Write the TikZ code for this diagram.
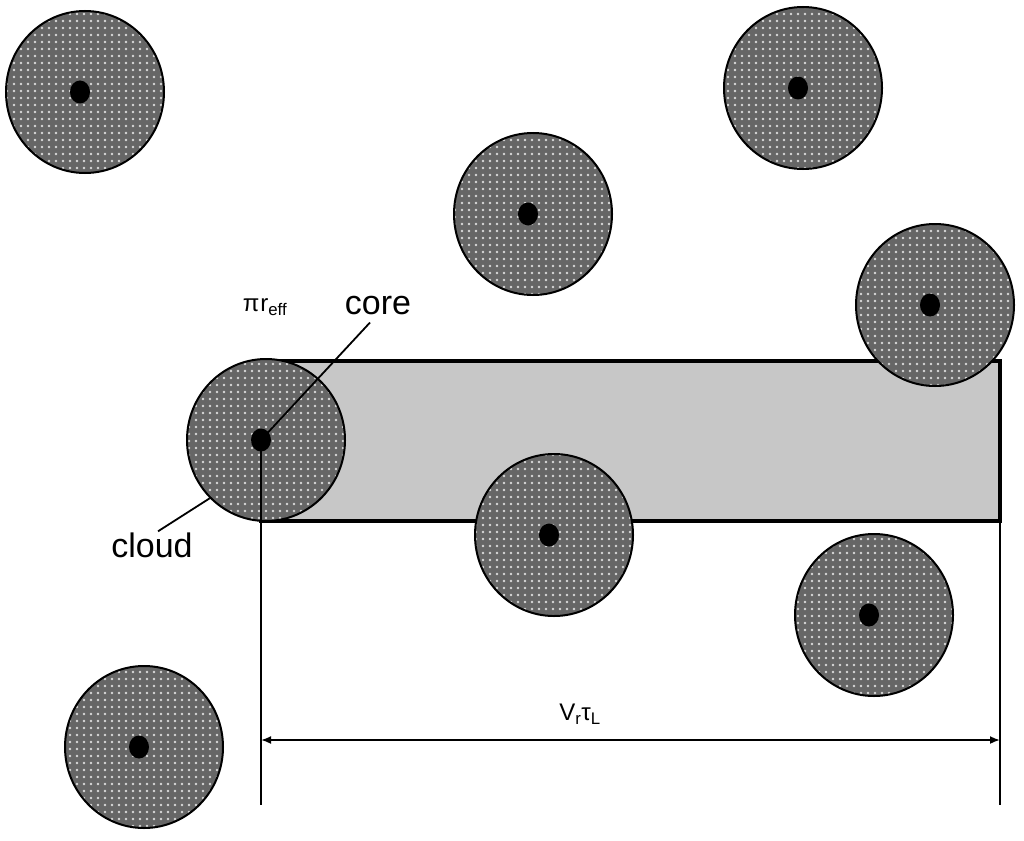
\documentclass[tikz,border=0pt]{standalone}
\usepackage{fontspec}
\setmainfont{Liberation Sans}
\usetikzlibrary{shapes.geometric,patterns.meta,arrows.meta,positioning}

\begin{document}
\begin{tikzpicture}[
    x=1pt, y=-1pt,
    cloud/.style={ellipse, draw, line width=2pt, minimum width=158pt, minimum height=162pt, inner sep=0pt,
        preaction={fill=black!60}, pattern={Dots[distance=7pt, radius=1.4pt]}, pattern color=white!85!black},
    core/.style={ellipse, fill=black, minimum width=20pt, minimum height=23pt, inner sep=0pt},
    tube/.style={draw, line width=3.5pt, fill=black!22},
    dim/.style={line width=1.8pt},
    lbl/.style={font=\fontsize{34}{36}\selectfont, inner sep=1pt},
    sym/.style={font=\fontsize{24}{26}\selectfont, inner sep=1pt},
    tip/.style={{Latex[length=10pt,width=8pt]}-{Latex[length=10pt,width=8pt]}}
]
    \useasboundingbox (0,0) rectangle (1024,840);

    % swept tube behind the clouds
    \coordinate (tl) at (261,361);
    \coordinate (br) at (1000,521);
    \draw[tube] (tl) rectangle (br);

    % clouds with their cores
    \foreach \n/\x/\y in {1/80/92, 2/798/88, 3/528/214, 4/930/305, 5/261/440, 6/549/535, 7/869/615, 8/139/747} {
        \node[cloud] (cloud\n) at (\x+5,\y) {};
        \node[core] (core\n) at (\x,\y) {};
    }

    % labels
    \node[sym] (rlbl) at (265,307) {π\kern1pt r\textsubscript{eff}};
    \node[lbl] (corelbl) at (378,306) {core};
    \node[lbl] (cloudlbl) at (152,545) {cloud};
    \draw[dim] (core5.center) -- ([xshift=-8pt,yshift=-6pt]corelbl.south);
    \draw[dim] ([xshift=6pt]cloudlbl.north) -- (cloud5.226);

    % dimension
    \coordinate (base) at (0,805);
    \coordinate (arr) at (0,740);
    \draw[dim] (core5.center) -- (core5.center |- base);
    \draw[dim] (br) -- (br |- base);
    \draw[dim, tip] (core5.center |- arr) -- (br |- arr);
    \node[sym] (vlbl) at (580,714) {V\textsubscript{r}τ\textsubscript{L}};
\end{tikzpicture}
\end{document}
